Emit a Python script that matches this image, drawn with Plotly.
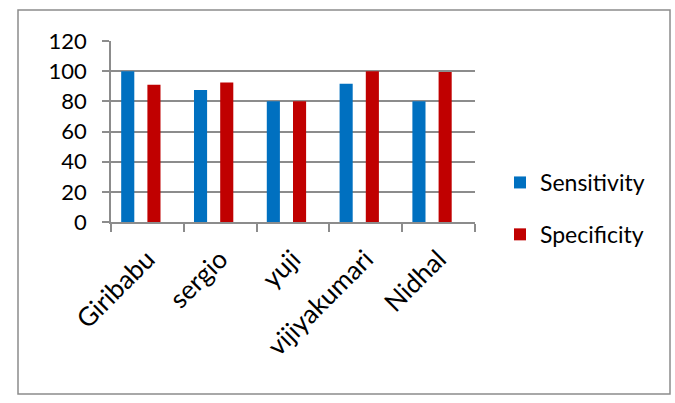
import plotly.graph_objects as go

categories = ["Giribabu", "sergio", "yuji", "vijiyakumari", "Nidhal"]
sensitivity = [100, 87.5, 80, 91.7, 80]
specificity = [91, 92.5, 80, 100, 99.5]
y_ticks = [0, 20, 40, 60, 80, 100, 120]

FONT = "Lato"
GRID = "#8c8c8c"

fig = go.Figure()
fig.add_trace(go.Bar(x=categories, y=sensitivity, name="Sensitivity",
                     marker=dict(color="#0070C0", line=dict(width=0)),
                     width=0.18, offset=-0.36, legendgroup="a"))
fig.add_trace(go.Bar(x=categories, y=specificity, name="Specificity",
                     marker=dict(color="#C00000", line=dict(width=0)),
                     width=0.18, offset=0.0, legendgroup="b"))

L, R, T, B = 111, 200, 41, 181
W, H = 675, 403
pw = W - L - R
ph = H - T - B

def px_x(px):
    return (px - L) / pw

def px_y(py):
    return (H - B - py) / ph

fig.update_layout(
    width=W, height=H,
    margin=dict(l=L, r=R, t=T, b=B, pad=0),
    barmode="overlay",
    paper_bgcolor="white", plot_bgcolor="white",
    font=dict(family=FONT, size=22, color="#000000"),
    showlegend=True,
    legend=dict(x=px_x(500), y=px_y(161), xanchor="left", yanchor="top",
                font=dict(size=23, family=FONT, color="#000000"),
                tracegroupgap=19, bgcolor="rgba(0,0,0,0)"),
    shapes=[dict(type="rect", xref="paper", yref="paper",
                 x0=px_x(18), x1=px_x(670), y0=px_y(394), y1=px_y(10),
                 line=dict(color="#8c8c8c", width=1.5), fillcolor="rgba(0,0,0,0)",
                 layer="below")],
)

fig.update_xaxes(
    type="category", tickson="boundaries", ticks="outside", ticklen=8,
    tickcolor=GRID, tickwidth=1.5,
    showline=True, linecolor=GRID, linewidth=1.5,
    showgrid=False, tickangle=-45, ticklabelstandoff=10,
    tickfont=dict(size=26, family=FONT, color="#000000"),
)
fig.update_yaxes(
    range=[0, 120], tickvals=y_ticks, ticks="outside", ticklen=7,
    tickcolor=GRID, tickwidth=1.5,
    showline=True, linecolor=GRID, linewidth=1.5,
    showgrid=True, gridcolor=GRID, gridwidth=1.5, zeroline=False,
    ticklabelstandoff=11,
    tickfont=dict(size=22, family=FONT, color="#000000"),
)

fig.write_html("out.html")
